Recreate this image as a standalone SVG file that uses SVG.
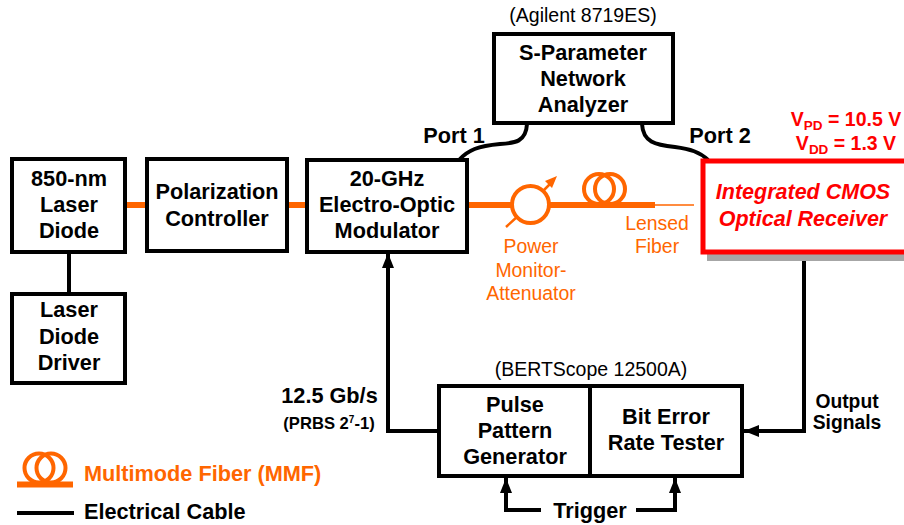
<svg xmlns="http://www.w3.org/2000/svg" width="904" height="525" viewBox="0 0 904 525">
<style>
text{font-family:"Liberation Sans",Arial,sans-serif;text-anchor:middle}
.b{font-weight:700;font-size:21.7px;fill:#000}
.s{font-weight:700;font-size:19.3px;fill:#000}
.n{font-size:19.5px;fill:#000}
.box{fill:#fff;stroke:#000;stroke-width:4}
.w{fill:none;stroke:#000;stroke-width:4}
.o{fill:none;stroke:#ff6600;stroke-width:4}
.of{fill:none;stroke:#ff6600;stroke-width:6}
.ol{font-size:19.4px;fill:#ff6600}
.r{font-weight:700;fill:#ff0000}
.ri{font-weight:700;font-style:italic;font-size:21.5px;fill:#ff0000}
</style>
<defs>
<marker id="a" markerUnits="userSpaceOnUse" markerWidth="16" markerHeight="12" refX="15" refY="6" orient="auto"><path d="M0 0L15 6L0 12Z" fill="#000"/></marker>
</defs>
<rect width="904" height="525" fill="#fff"/>
<g id="connectors">
<path class="w" d="M69 252V294"/>
<path class="of" d="M126 205H147"/>
<path class="of" d="M288 205H307"/>
<path class="of" d="M468 205H511M550 205H655"/>
<path d="M655 205H694" fill="none" stroke="#ff6600" stroke-width="1.5"/>
<path class="w" d="M527 124C526 142 515 143 500 144C478 146 468 150 459 160"/>
<path class="w" d="M642 124C643 142 655 145 675 147C690 149 700 152 708 160"/>
<path class="w" d="M804 253V431H744" marker-end="url(#a)"/>
<path class="w" d="M439 431H388V253" marker-end="url(#a)"/>
<path class="w" d="M541 510H506V478" marker-end="url(#a)"/>
<path class="w" d="M636 510H675V478" marker-end="url(#a)"/>
</g>
<g id="laser-diode"><rect class="box" x="12" y="159" width="113" height="93"/><text class="b" x="69" y="186">850-nm</text><text class="b" x="69" y="212">Laser</text><text class="b" x="69" y="238">Diode</text></g>
<g id="laser-driver"><rect class="box" x="12" y="294" width="113" height="89"/><text class="b" x="69" y="317">Laser</text><text class="b" x="69" y="344">Diode</text><text class="b" x="69" y="370">Driver</text></g>
<g id="polarization-controller"><rect class="box" x="147" y="159" width="140" height="92"/><text class="b" x="217" y="199">Polarization</text><text class="b" x="217" y="226">Controller</text></g>
<g id="modulator"><rect class="box" x="307" y="160" width="160" height="92"/><text class="b" x="387" y="186">20-GHz</text><text class="b" x="387" y="212">Electro-Optic</text><text class="b" x="387" y="238">Modulator</text></g>
<g id="network-analyzer"><rect class="box" x="494" y="34" width="179" height="89"/><text class="b" x="583" y="60">S-Parameter</text><text class="b" x="583" y="86">Network</text><text class="b" x="583" y="112">Analyzer</text><text class="n" x="583" y="22">(Agilent 8719ES)</text></g>
<text class="b" x="454" y="143">Port 1</text>
<text class="b" x="720" y="143">Port 2</text>
<g id="power-monitor"><circle class="o" cx="530.5" cy="204.5" r="18.5"/><path d="M506 227L518 216M543 191L553 181" fill="none" stroke="#ff6600" stroke-width="2.5"/><path d="M557 176L552 188L545 181Z" fill="#ff6600"/><text class="ol" x="531" y="253">Power</text><text class="ol" x="531" y="277">Monitor-</text><text class="ol" x="531" y="300">Attenuator</text></g>
<g id="mmf-coil"><circle class="o" cx="599" cy="189" r="15"/><circle class="o" cx="610" cy="189" r="15"/></g>
<g id="lensed-fiber"><text class="ol" x="657" y="230">Lensed</text><text class="ol" x="657" y="253">Fiber</text></g>
<g id="receiver"><rect x="707" y="162" width="197" height="99" fill="#a6a6a6"/><rect x="703" y="161" width="205" height="91" fill="#fff" stroke="#ff0000" stroke-width="5"/><text class="ri" x="803" y="199">Integrated CMOS</text><text class="ri" x="803" y="226">Optical Receiver</text></g>
<g id="supply"><text class="r" x="846" y="126" font-size="19.5">V<tspan font-size="13.5" dy="4">PD</tspan><tspan dy="-4"> = 10.5 V</tspan></text><text class="r" x="846" y="150" font-size="19.5">V<tspan font-size="13.5" dy="4">DD</tspan><tspan dy="-4"> = 1.3 V</tspan></text></g>
<g id="rate-label"><text class="b" x="329.5" y="403">12.5 Gb/s</text><text x="329" y="429" font-size="16.6" font-weight="700">(PRBS 2<tspan font-size="10" dy="-6">7</tspan><tspan dy="6">-1)</tspan></text></g>
<g id="bert"><text class="n" x="591" y="376">(BERTScope 12500A)</text><rect class="box" x="439" y="386" width="303" height="90"/><path class="w" d="M590 386V476"/><text class="b" x="515" y="412">Pulse</text><text class="b" x="515" y="438">Pattern</text><text class="b" x="515" y="464">Generator</text><text class="b" x="666" y="424">Bit Error</text><text class="b" x="666" y="450">Rate Tester</text></g>
<text class="s" x="847" y="408">Output</text>
<text class="s" x="847" y="429">Signals</text>
<text class="b" x="590" y="518">Trigger</text>
<g id="legend"><circle class="o" cx="39" cy="468" r="14.5"/><circle class="o" cx="51" cy="468" r="14.5"/><path class="of" d="M17 484.500H73"/><text x="84" y="481" font-size="21.7" font-weight="700" fill="#ff6600" style="text-anchor:start">Multimode Fiber (MMF)</text><path class="w" d="M17 513H74"/><text class="b" x="84" y="519" style="text-anchor:start">Electrical Cable</text></g>
</svg>
